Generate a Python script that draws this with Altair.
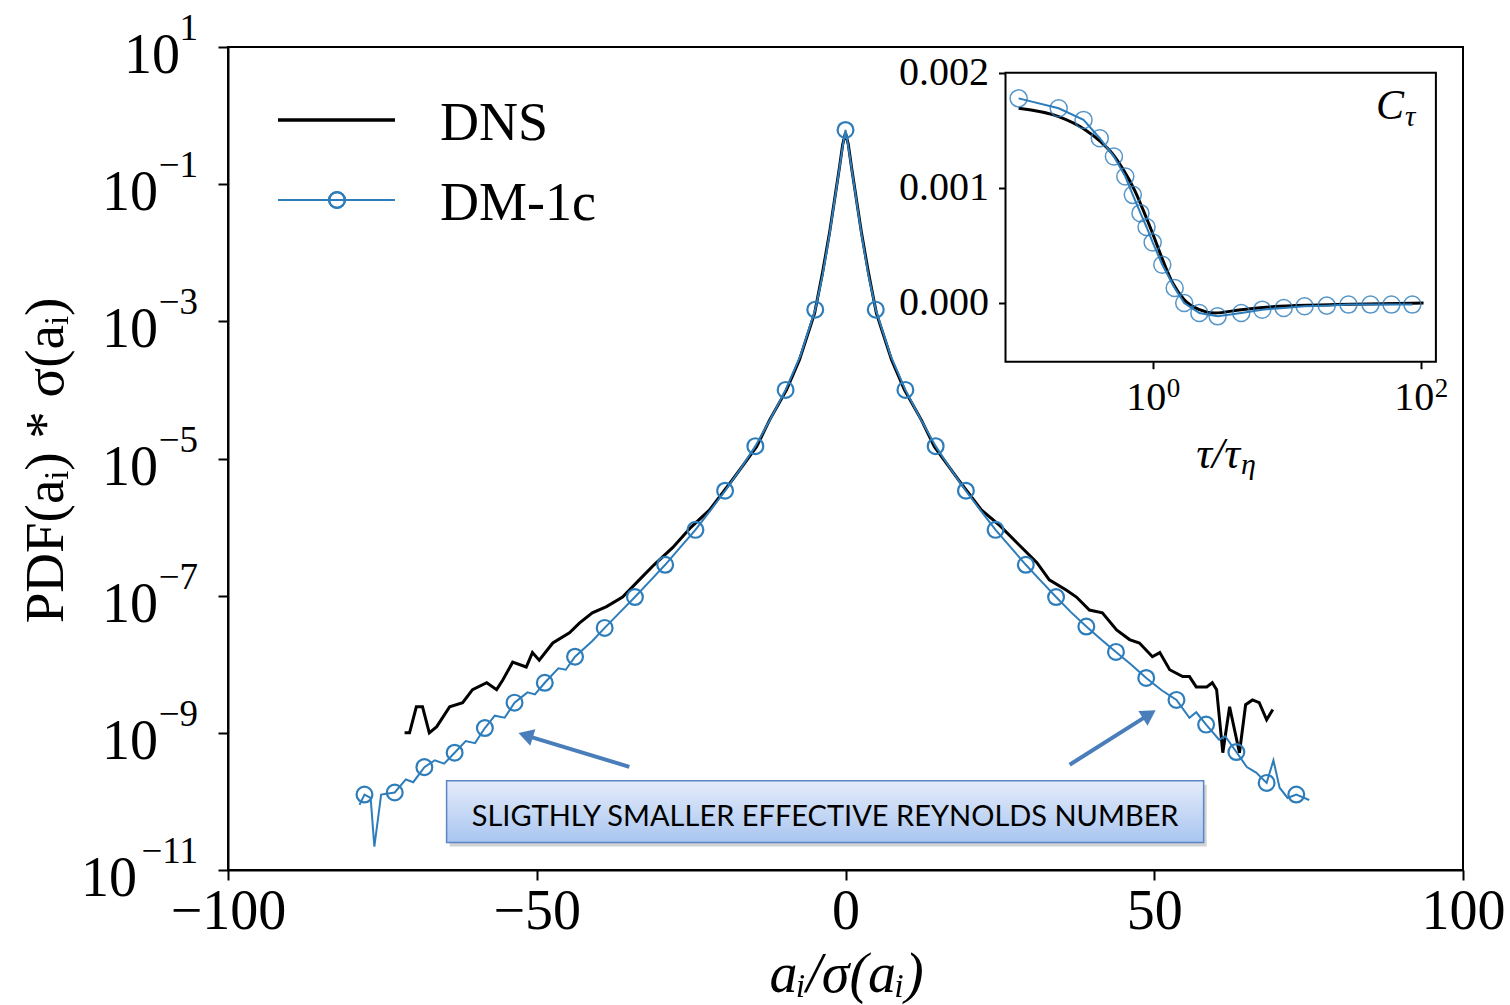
import altair as alt
import pandas as pd

# ---------------- data ----------------
# DNS (black) curve: x = a_i/sigma(a_i), log10 of PDF*sigma
dns_x = [-71.4, -70.6, -69.5, -68.5, -67.4, -66.2, -64.1, -62.0, -60.4, -58.1,
         -56.5, -55.5, -53.9, -51.7, -50.7, -49.6, -47.4, -44.7, -43.1, -41.0,
         -38.7, -36.1, -33.4, -31.0, -28.0, -25.0, -22.0, -18.3, -14.4, -12.3,
         -9.55, -7.45, -5.0, -3.72, -2.59, -1.78, -0.97, -0.45, 0.0,
         0.45, 0.97, 1.78, 2.59, 3.72, 5.0, 7.45, 9.55, 12.3, 14.4,
         18.3, 22.0, 25.0, 28.0, 31.0, 33.0, 35.8, 37.4, 39.5, 41.6,
         43.9, 46.0, 47.6, 49.7, 50.9, 52.5, 54.6, 55.7, 56.8, 58.5,
         59.4, 60.1, 61.1, 62.2, 63.8, 64.8, 65.9, 67.0, 68.2, 69.2]
dns_log10 = [-9.0, -9.0, -8.62, -8.62, -9.0, -8.91, -8.62, -8.56, -8.37, -8.27,
             -8.37, -8.23, -7.97, -8.04, -7.83, -7.94, -7.69, -7.54, -7.40, -7.25,
             -7.16, -7.02, -6.77, -6.55, -6.30, -6.00, -5.75, -5.31, -4.83, -4.44,
             -4.00, -3.56, -2.88, -2.29, -1.71, -1.23, -0.75, -0.42, -0.25,
             -0.42, -0.75, -1.23, -1.71, -2.29, -2.88, -3.56, -4.00, -4.44, -4.83,
             -5.31, -5.75, -5.98, -6.25, -6.52, -6.77, -6.92, -7.02, -7.21, -7.25,
             -7.50, -7.64, -7.69, -7.89, -7.83, -8.08, -8.18, -8.18, -8.33, -8.33,
             -8.27, -8.37, -9.29, -8.62, -9.29, -8.59, -8.52, -8.56, -8.81, -8.66]

# DM-1c (blue) line
dm_x = [-78.7, -77.9, -76.9, -76.3, -75.2, -73.0, -71.2, -70.0, -68.2, -66.5,
        -65.0, -63.3, -61.5, -60.0, -58.4, -56.8, -55.2, -53.6, -51.5, -50.3,
        -48.7, -46.5, -45.3, -43.8, -41.0, -39.0, -36.5, -34.1, -31.6, -29.2,
        -26.8, -24.3, -21.9, -19.5, -17.0, -14.6, -12.2, -9.7, -7.3, -4.9,
        -3.7, -2.6, -1.8, -1.0, -0.45, 0.0, 0.45, 1.0, 1.8, 2.6,
        3.7, 4.9, 7.3, 9.7, 12.2, 14.6, 17.0, 19.5, 21.9, 24.3,
        26.8, 29.2, 31.6, 34.1, 36.5, 39.0, 41.4, 43.8, 46.2, 48.7,
        51.2, 53.6, 55.7, 56.8, 58.4, 60.5, 61.5, 63.3, 65.0, 66.5,
        68.2, 69.3, 70.3, 71.6, 73.0, 75.1]
dm_log10 = [-10.05, -9.90, -9.95, -10.66, -9.90, -9.87, -9.68, -9.72, -9.50, -9.40,
            -9.45, -9.29, -9.12, -9.15, -8.93, -8.75, -8.78, -8.56, -8.41, -8.44,
            -8.27, -8.06, -8.08, -7.89, -7.66, -7.47, -7.24, -7.02, -6.78, -6.55,
            -6.30, -6.04, -5.76, -5.47, -5.15, -4.82, -4.43, -4.00, -3.50, -2.83,
            -2.32, -1.74, -1.26, -0.78, -0.45, -0.21, -0.45, -0.78, -1.26, -1.74,
            -2.32, -2.83, -3.50, -4.00, -4.43, -4.82, -5.15, -5.47, -5.76, -6.04,
            -6.30, -6.55, -6.78, -7.02, -7.24, -7.45, -7.64, -7.82, -8.00, -8.20,
            -8.38, -8.52, -8.78, -8.70, -8.88, -9.10, -9.05, -9.28, -9.50, -9.58,
            -9.73, -9.40, -9.80, -9.95, -9.90, -9.98]

# DM-1c circle markers
mk_x = [-77.9, -73.0, -68.2, -63.3, -58.4, -53.6, -48.7, -43.8, -39.0, -34.1,
        -29.2, -24.3, -19.5, -14.6, -9.7, -4.9, 0.0, 4.9, 9.7, 14.6,
        19.5, 24.3, 29.2, 34.1, 39.0, 43.8, 48.7, 53.6, 58.4, 63.3, 68.2, 73.0]
mk_log10 = [-9.90, -9.87, -9.50, -9.29, -8.93, -8.56, -8.27, -7.89, -7.47, -7.02,
            -6.55, -6.04, -5.47, -4.82, -4.00, -2.83, -0.21, -2.83, -4.00, -4.82,
            -5.47, -6.04, -6.55, -7.02, -7.45, -7.82, -8.20, -8.52, -8.88, -9.28, -9.73, -9.90]

# inset: C_tau vs tau/tau_eta  (C in units of 1e-3)
in_dns_tau = [0.100, 0.199, 0.315, 0.409, 0.497, 0.605, 0.731, 0.889, 1.02, 1.16,
              1.41, 1.72, 2.23, 2.90, 4.58, 8.80, 23.4, 105.0]
in_dns_c = [1.691, 1.618, 1.503, 1.402, 1.301, 1.156, 0.983, 0.751, 0.578, 0.405,
            0.173, 0.029, -0.058, -0.087, -0.058, -0.029, -0.014, 0.0]
in_dm_tau = [0.100, 0.199, 0.305, 0.403, 0.514, 0.625, 0.711, 0.811, 0.90, 1.0,
             1.18, 1.46, 1.72, 2.23, 3.05, 4.58, 6.57, 9.5, 13.6, 19.9,
             28.9, 42.2, 60.5, 86.6]
in_dm_c = [1.777, 1.691, 1.590, 1.431, 1.272, 1.098, 0.939, 0.780, 0.660, 0.526,
           0.332, 0.130, 0.0, -0.087, -0.116, -0.087, -0.058, -0.043, -0.029, -0.023,
           -0.014, -0.014, -0.014, -0.014]

x_ticks = [-100, -50, 0, 50, 100]
y_tick_exp = [1, -1, -3, -5, -7, -9, -11]
y_tick_exp_text = ["1", "\u22121", "\u22123", "\u22125", "\u22127", "\u22129", "\u221211"]
inset_x_ticks = [1, 100]
inset_x_exp_text = ["0", "2"]
inset_y_ticks = [0.0, 0.001, 0.002]
legend_labels = ["DNS", "DM-1c"]
note_text = "SLIGTHLY SMALLER EFFECTIVE REYNOLDS NUMBER"

# annotation geometry in data units (x, log10 y)
box_x = [-64.6, 58.0]
box_log10 = [-9.70, -10.60]
note_pos = [-3.3, -10.36]
arrow_tail_x = [-35.0, 36.3]
arrow_tail_log10 = [-9.496, -9.466]
arrow_head_x = [-51.8, 49.2]
arrow_head_log10 = [-9.036, -8.73]
arrow_angle = [287, 58]

# ---------------- styles ----------------
BLUE = "#2e7dbb"
ARROW = "#4a7ebb"
SERIF = "Liberation Serif"

dns_df = pd.DataFrame({"x": dns_x, "y": [10 ** v for v in dns_log10]})
dm_df = pd.DataFrame({"x": dm_x, "y": [10 ** v for v in dm_log10]})
mk_df = pd.DataFrame({"x": mk_x, "y": [10 ** v for v in mk_log10]})
ytick_df = pd.DataFrame({"y": [10.0 ** k for k in y_tick_exp], "k": y_tick_exp, "e": y_tick_exp_text})
box_df = pd.DataFrame({"x": [box_x[0]], "x2": [box_x[1]],
                       "y": [10 ** box_log10[0]], "y2": [10 ** box_log10[1]]})
note_df = pd.DataFrame({"x": [note_pos[0]], "y": [10 ** note_pos[1]], "t": [note_text]})
arrow_df = pd.DataFrame({"x": arrow_tail_x, "y": [10 ** v for v in arrow_tail_log10],
                         "x2": arrow_head_x, "y2": [10 ** v for v in arrow_head_log10],
                         "ang": arrow_angle})

xs = alt.Scale(domain=[-100, 100], nice=False, zero=False)
ys = alt.Scale(type="log", domain=[1e-11, 10], nice=False)

x_axis = alt.Axis(
    values=x_ticks, labelFontSize=56, tickSize=10, labelPadding=4, labelFlush=False,
    labelOverlap=False, title="a\u1d62/\u03c3(a\u1d62)", titleFontSize=56, titleFontStyle="italic",
    titleX=618, titleY=121, titleAlign="center", titleBaseline="alphabetic")
y_axis = alt.Axis(
    values=[10.0 ** k for k in y_tick_exp], labels=False, tickSize=10,
    title="PDF(a\u1d62) * \u03c3(a\u1d62)", titleFontSize=55, titleAngle=270,
    titleX=-183, titleY=413, titleAlign="center", titleBaseline="middle")


def MX(field="x:Q"):
    return alt.X(field, scale=xs, axis=x_axis)


def MY(field="y:Q"):
    return alt.Y(field, scale=ys, axis=y_axis)


dns_line = alt.Chart(dns_df).mark_line(color="black", strokeWidth=3).encode(x=MX(), y=MY())
dm_line = alt.Chart(dm_df).mark_line(color=BLUE, strokeWidth=2).encode(x=MX(), y=MY())
dm_pts = alt.Chart(mk_df).mark_point(shape="circle", filled=False, size=250, strokeWidth=2.2,
                                      color=BLUE, opacity=1).encode(x=MX(), y=MY())

# y tick labels: "10" + exponent
txt = dict(baseline="alphabetic", font=SERIF, color="black")
base_mid = alt.Chart(ytick_df).transform_filter("datum.k < 0 && datum.k > -11").mark_text(
    text="10", align="right", dy=26, fontSize=56, **txt).encode(x=alt.value(-70), y=MY())
base_top = alt.Chart(ytick_df).transform_filter("datum.k > 0").mark_text(
    text="10", align="right", dy=26, fontSize=56, **txt).encode(x=alt.value(-48), y=MY())
base_bot = alt.Chart(ytick_df).transform_filter("datum.k == -11").mark_text(
    text="10", align="right", dy=26, fontSize=56, **txt).encode(x=alt.value(-91), y=MY())
exps = alt.Chart(ytick_df).mark_text(align="right", dy=-7, fontSize=37, **txt).encode(
    x=alt.value(-30), y=MY(), text="e:N")

# legend
leg_df = pd.DataFrame({"label": legend_labels})
leg_rule1 = alt.Chart(leg_df).mark_rule(color="black", strokeWidth=3).encode(
    x=alt.value(50), x2=alt.value(167), y=alt.value(73))
leg_rule2 = alt.Chart(leg_df).mark_rule(color=BLUE, strokeWidth=2).encode(
    x=alt.value(50), x2=alt.value(167), y=alt.value(153))
leg_pt = alt.Chart(leg_df).mark_point(shape="circle", filled=False, size=250, strokeWidth=2.2,
                                       color=BLUE, opacity=1).encode(x=alt.value(109), y=alt.value(153))
leg_t1 = alt.Chart(leg_df).transform_filter("datum.label == 'DNS'").mark_text(
    align="left", fontSize=54, **txt).encode(x=alt.value(212), y=alt.value(93), text="label:N")
leg_t2 = alt.Chart(leg_df).transform_filter("datum.label == 'DM-1c'").mark_text(
    align="left", fontSize=54, **txt).encode(x=alt.value(212), y=alt.value(173), text="label:N")

# annotation box + arrows
grad = alt.Gradient(gradient="linear",
                    stops=[alt.GradientStop(color="#e4ecfa", offset=0),
                           alt.GradientStop(color="#a9c5f0", offset=1)],
                    x1=0, x2=0, y1=0, y2=1)
shadow = alt.Chart(box_df).mark_rect(fill="#7f7f7f", opacity=0.35, xOffset=3, x2Offset=3,
                                     yOffset=4, y2Offset=4).encode(
    x=MX(), x2="x2:Q", y=MY(), y2="y2:Q")
box = alt.Chart(box_df).mark_rect(fill=grad, stroke="#5a86c6", strokeWidth=1.5).encode(
    x=MX(), x2="x2:Q", y=MY(), y2="y2:Q")
note = alt.Chart(note_df).mark_text(align="center", baseline="alphabetic", fontSize=29,
                                    font="Lato", color="black").encode(x=MX(), y=MY(), text="t:N")
arrows = alt.Chart(arrow_df).mark_rule(color=ARROW, strokeWidth=4).encode(
    x=MX(), y=MY(), x2="x2:Q", y2="y2:Q")
heads = alt.Chart(arrow_df).mark_point(shape="triangle-up", filled=True, size=300, color=ARROW,
                                        opacity=1).encode(
    x=MX("x2:Q"), y=MY("y2:Q"), angle=alt.Angle("ang:Q", scale=None))

main = alt.layer(dns_line, dm_line, dm_pts, base_mid, base_top, base_bot, exps,
                 leg_rule1, leg_rule2, leg_pt, leg_t1, leg_t2,
                 shadow, box, note, arrows, heads)

# ---------------- inset ----------------
ix = alt.Scale(type="log", domain=[0.0798, 129.8], range=[777.5, 1207.9], nice=False)
iy = alt.Scale(domain=[-0.00051, 0.002], range=[314.7, 25.7], nice=False, zero=False)

ix_axis = alt.Axis(
    orient="bottom", offset=-508.3, values=inset_x_ticks, labelExpr="'10'", labelFontSize=40,
    labelOffset=-7, labelPadding=9, labelFlush=False, labelOverlap=False, tickSize=7,
    domain=False, title=None)
iy_axis = alt.Axis(
    orient="left", offset=-777.5, values=inset_y_ticks, format=".3f", labelFontSize=40,
    labelPadding=10, labelOverlap=False, tickSize=7, domain=False, title=None)


def IX(field="t:Q"):
    return alt.X(field, scale=ix, axis=ix_axis)


def IY(field="c:Q"):
    return alt.Y(field, scale=iy, axis=iy_axis)


frame_df = pd.DataFrame({"t": [0.0798], "t2": [129.8], "c": [-0.00051], "c2": [0.002]})
in_dns_df = pd.DataFrame({"t": in_dns_tau, "c": [v * 1e-3 for v in in_dns_c]})
in_dm_df = pd.DataFrame({"t": in_dm_tau, "c": [v * 1e-3 for v in in_dm_c]})
in_exp_df = pd.DataFrame({"t": inset_x_ticks, "e": inset_x_exp_text})

frame = alt.Chart(frame_df).mark_rect(fill="white", stroke="black", strokeWidth=2).encode(
    x=IX(), x2="t2:Q", y=IY(), y2="c2:Q")
in_dm_line = alt.Chart(in_dm_df).mark_line(color=BLUE, strokeWidth=2).encode(x=IX(), y=IY())
in_dm_pts = alt.Chart(in_dm_df).mark_point(shape="circle", filled=False, size=290, strokeWidth=1.5,
                                            color=BLUE, opacity=0.8).encode(x=IX(), y=IY())
in_dns_line = alt.Chart(in_dns_df).mark_line(color="black", strokeWidth=3,
                                             interpolate="monotone").encode(x=IX(), y=IY())
in_exps = alt.Chart(in_exp_df).mark_text(align="left", dx=14, fontSize=27, **txt).encode(
    x=IX(), y=alt.value(350), text="e:N")
c_lab = alt.Chart(frame_df).mark_text(text="C", align="left", fontSize=42, fontStyle="italic",
                                      **txt).encode(x=alt.value(1148), y=alt.value(72))
c_sub = alt.Chart(frame_df).mark_text(text="\u03c4", align="left", fontSize=29, fontStyle="italic",
                                      **txt).encode(x=alt.value(1177), y=alt.value(79))
t_lab = alt.Chart(frame_df).mark_text(text="\u03c4/\u03c4", align="right", fontSize=44,
                                      fontStyle="italic", **txt).encode(x=alt.value(1012), y=alt.value(421))
t_sub = alt.Chart(frame_df).mark_text(text="\u03b7", align="left", fontSize=30, fontStyle="italic",
                                      **txt).encode(x=alt.value(1013), y=alt.value(427))

inset = alt.layer(frame, in_dns_line, in_dm_line, in_dm_pts, in_exps, c_lab, c_sub, t_lab, t_sub)

chart = alt.layer(main, inset).resolve_scale(x="independent", y="independent").properties(
    width=1235, height=823,
    autosize=alt.AutoSizeParams(type="none"),
    padding={"left": 228, "top": 47, "right": 47, "bottom": 135},
    background="white",
).configure_axis(
    grid=False, domainColor="black", domainWidth=2, tickColor="black", tickWidth=2,
    labelColor="black", labelFont=SERIF, titleFont=SERIF, titleColor="black",
    titleFontWeight="normal",
).configure_view(stroke="black", strokeWidth=2)

chart.save("out.html", embed_options={"renderer": "svg", "actions": False})
